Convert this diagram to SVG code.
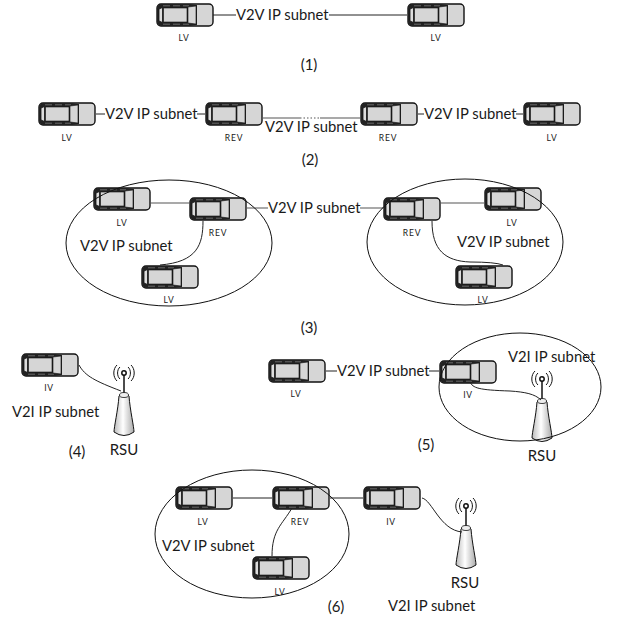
<svg xmlns="http://www.w3.org/2000/svg" width="628" height="621" viewBox="0 0 628 621">
<style>
text{font-family:Lato,"Liberation Sans",sans-serif;fill:#1a1a1a}
.t{font-size:14.8px}
.c{font-size:15px;text-anchor:middle}
.s{font-size:8.5px;text-anchor:middle;letter-spacing:.8px}
.r{font-size:15px;text-anchor:middle}
.l{fill:none;stroke:#222;stroke-width:1}
.g{fill:none;stroke:#555;stroke-width:1.2}
.e{fill:none;stroke:#111;stroke-width:1}
</style>
<defs>
<linearGradient id="g" x1="0" x2="1" y1="0" y2="0"><stop offset="0" stop-color="#bbb"/><stop offset=".45" stop-color="#fff"/><stop offset="1" stop-color="#aaa"/></linearGradient>
<g id="car">
<rect x="1" y="1" width="56" height="22" rx="4" fill="#d6d6d6" stroke="#111" stroke-width="1.4"/>
<path d="M1 6Q1 1 6 1H34L41 2V22L34 23H6Q1 23 1 18Z" fill="#222"/>
<path d="M7 2.8H33M7 21.2H33" stroke="#888" stroke-width=".7" stroke-dasharray="7 3" fill="none"/>
<path d="M3 6L6.5 4.5V19.5L3 18Z" fill="#ddd" stroke="#111" stroke-width=".8"/>
<path d="M7.5 5H31V19H7.5Z" fill="#d6d6d6" stroke="#111" stroke-width=".6"/>
<path d="M32 4L40 3V21L32 20Z" fill="#d6d6d6" stroke="#111" stroke-width=".6"/>
</g>
<g id="rsu">
<path d="M-4 -10A5 7 0 0 0 -4 2M4 -10A5 7 0 0 1 4 2M-7 -12A8 10 0 0 0 -7 4M7 -12A8 10 0 0 1 7 4" fill="none" stroke="#111" stroke-width="1"/>
<circle cx="0" cy="-4" r="2.2" fill="#fff" stroke="#111" stroke-width="1.5"/>
<path d="M0 -2V17" stroke="#111" stroke-width="1.5"/>
<path d="M-5 19C-6 33 -10 50 -10 55Q0 62 10 55C10 50 6 33 5 19Q0 14 -5 19Z" fill="url(#g)" stroke="#111" stroke-width="1"/>
<ellipse cx="0" cy="18" rx="4.5" ry="2.5" fill="#eee" stroke="#111" stroke-width=".8"/>
</g>
</defs>
<g id="car1"><use href="#car" x="156" y="3"/><text class="s" x="184" y="41">LV</text></g>
<g id="car2"><use href="#car" x="407" y="3"/><text class="s" x="436" y="41">LV</text></g>
<g id="car3"><use href="#car" x="38" y="102"/><text class="s" x="67" y="141">LV</text></g>
<g id="car4"><use href="#car" x="205" y="102"/><text class="s" x="234" y="141">REV</text></g>
<g id="car5"><use href="#car" x="360" y="102"/><text class="s" x="388" y="141">REV</text></g>
<g id="car6"><use href="#car" x="523" y="102"/><text class="s" x="552" y="141">LV</text></g>
<g id="car7"><use href="#car" x="93" y="187"/><text class="s" x="122" y="226">LV</text></g>
<g id="car8"><use href="#car" x="189" y="197"/><text class="s" x="218" y="236">REV</text></g>
<g id="car9"><use href="#car" x="141" y="265"/><text class="s" x="169" y="303">LV</text></g>
<g id="car10"><use href="#car" x="484" y="187"/><text class="s" x="512" y="226">LV</text></g>
<g id="car11"><use href="#car" x="383" y="197"/><text class="s" x="412" y="236">REV</text></g>
<g id="car12"><use href="#car" x="455" y="265"/><text class="s" x="483" y="303">LV</text></g>
<g id="car13"><use href="#car" x="21" y="353"/><text class="s" x="49" y="391">IV</text></g>
<g id="car14"><use href="#car" x="268" y="359"/><text class="s" x="296" y="397">LV</text></g>
<g id="car15"><use href="#car" x="439" y="360"/><text class="s" x="468" y="398">IV</text></g>
<g id="car16"><use href="#car" x="175" y="486"/><text class="s" x="203" y="525">LV</text></g>
<g id="car17"><use href="#car" x="272" y="486"/><text class="s" x="300" y="525">REV</text></g>
<g id="car18"><use href="#car" x="363" y="486"/><text class="s" x="391" y="525">IV</text></g>
<g id="car19"><use href="#car" x="252" y="556"/><text class="s" x="280" y="595">LV</text></g>
<g id="rsu1"><use href="#rsu" x="124" y="377"/><text class="r" x="124" y="455">RSU</text></g>
<g id="rsu2"><use href="#rsu" x="542" y="383"/><text class="r" x="542" y="461">RSU</text></g>
<g id="rsu3"><use href="#rsu" x="466" y="510"/><text class="r" x="465" y="588">RSU</text></g>
<g id="connectors">
<path class="l" d="M213 15H236M329 15H407"/>
<path class="l" d="M96 114H105M197 114H205"/>
<path class="g" d="M263 118H300"/>
<path class="g" stroke-dasharray="1.5 2" d="M300 118H320"/>
<path class="g" d="M320 118H360"/>
<path class="l" d="M418 114H424M516 114H523"/>
<path class="g" d="M150 203H189M247 208H268M360 208H383M441 203H484"/>
<path class="l" d="M203 221C203 245 197 262 160 265M432 221C432 250 445 261 470 262Q495 262 503 265"/>
<path class="l" d="M79 365C85 376 95 381 121 391"/>
<path class="l" d="M326 371H337M429 371H439M470 382C473 388 478 390 510 391C525 392 535 394 541 400"/>
<path class="l" d="M233 498H272M330 498H363M422 498C432 500 440 530 462 532M292 508C282 525 272 530 272 556"/>
<ellipse class="e" cx="169" cy="243" rx="103" ry="63"/>
<ellipse class="e" cx="465" cy="242" rx="98" ry="63"/>
<ellipse class="e" cx="520" cy="387" rx="81" ry="54"/>
<ellipse class="e" cx="252" cy="534" rx="97" ry="64"/>
</g>
<g id="labels">
<text class="t" x="236" y="20">V2V IP subnet</text>
<text class="t" x="105" y="119">V2V IP subnet</text>
<text class="t" x="265" y="132">V2V IP subnet</text>
<text class="t" x="424" y="119">V2V IP subnet</text>
<text class="t" x="268" y="213">V2V IP subnet</text>
<text class="t" x="80" y="251">V2V IP subnet</text>
<text class="t" x="457" y="247">V2V IP subnet</text>
<text class="t" x="12" y="417">V2I IP subnet</text>
<text class="t" x="337" y="376">V2V IP subnet</text>
<text class="t" x="508" y="362">V2I IP subnet</text>
<text class="t" x="162" y="551">V2V IP subnet</text>
<text class="t" x="388" y="611">V2I IP subnet</text>
<text class="c" x="309" y="70">(1)</text>
<text class="c" x="310" y="165">(2)</text>
<text class="c" x="309" y="333">(3)</text>
<text class="c" x="77" y="457">(4)</text>
<text class="c" x="426" y="450">(5)</text>
<text class="c" x="336" y="612">(6)</text>
</g>
</svg>
